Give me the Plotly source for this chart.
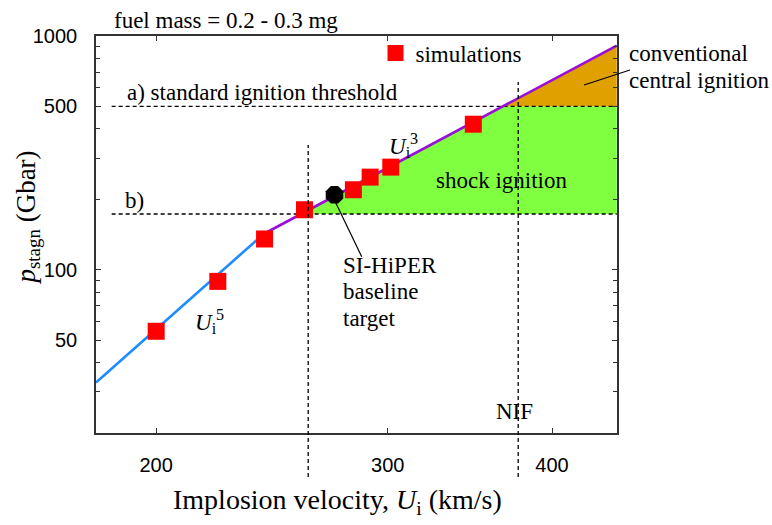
import numpy as np
import plotly.graph_objects as go

# ---------------- data ----------------
sim_U = [200.0, 222.8, 241.8, 259.3, 282.5, 290.9, 301.6, 348.5]      # km/s
sim_p = [54.5, 89.1, 135.3, 180.5, 219.8, 248.9, 274.7, 419.3]        # Gbar

baseline_U = [273.3]
baseline_p = [209.2]

fit5_U = [180.0, 241.4]          # U_i^5 scaling segment
fit5_p = [32.9, 142.1]
fit3_U = [241.4, 448.0]          # U_i^3 scaling segment
fit3_p = [142.1, 910.0]

threshold_a = 500.0              # a) standard ignition threshold (Gbar)
threshold_b = 173.0              # b) shock ignition threshold (Gbar)
thr_U = [185.0, 448.0]

shock_U = [257.7, 367.1, 448.0, 448.0]
shock_p = [173.0, 500.0, 500.0, 173.0]
conv_U = [367.1, 448.0, 448.0]
conv_p = [500.0, 910.0, 500.0]

si_line_U = 261.0
nif_line_U = 377.0

x_ticks = [200, 300, 400]
y_ticks = [50, 100, 500, 1000]
y_minor = [20, 30, 40, 60, 70, 80, 90, 200, 300, 400, 600, 700, 800, 900]

# ---------------- layout geometry ----------------
W, H = 772, 525
L, R, T, B = 96, 155, 36, 92
PW, PH = W - L - R, H - T - B

def px(x):
    return (x - L) / PW

def py(y):
    return (H - B - y) / PH

SERIF = "Liberation Serif, Times New Roman, serif"
SANS = "Liberation Sans, Arial, sans-serif"

fig = go.Figure()

fig.add_trace(go.Scatter(x=shock_U, y=shock_p, fill="toself", mode="none",
                         fillcolor="#80FF40", showlegend=False, hoverinfo="skip"))
fig.add_trace(go.Scatter(x=conv_U, y=conv_p, fill="toself", mode="none",
                         fillcolor="#E0A000", showlegend=False, hoverinfo="skip"))

for thr in (threshold_a, threshold_b):
    fig.add_trace(go.Scatter(x=thr_U, y=[thr, thr], mode="lines",
                             line=dict(color="black", width=1.4, dash="4px,3px"),
                             showlegend=False, hoverinfo="skip"))

fig.add_trace(go.Scatter(x=fit5_U, y=fit5_p, mode="lines",
                         line=dict(color="#1E8CFF", width=2.6), showlegend=False))
fig.add_trace(go.Scatter(x=fit3_U, y=fit3_p, mode="lines",
                         line=dict(color="#9A0FD8", width=2.6), showlegend=False))

fig.add_trace(go.Scatter(x=sim_U, y=sim_p, mode="markers", name="simulations",
                         marker=dict(symbol="square", size=17, color="#FF0000",
                                     line=dict(width=0))))
fig.add_trace(go.Scatter(x=baseline_U, y=baseline_p, mode="markers",
                         marker=dict(symbol="octagon", size=19, color="black",
                                     line=dict(width=0)), showlegend=False))

# vertical dashed reference lines (extend below axis)
for xv, ytop in ((si_line_U, 145), (nif_line_U, 82)):
    fig.add_shape(type="line", xref="x", yref="paper", x0=xv, x1=xv,
                  y0=py(477), y1=py(ytop),
                  line=dict(color="black", width=1.3, dash="4px,3px"))

# leader lines
fig.add_shape(type="line", xref="paper", yref="paper",
              x0=px(333), y0=py(197), x1=px(361.7), y1=py(256.7),
              line=dict(color="black", width=1.2))
fig.add_shape(type="line", xref="paper", yref="paper",
              x0=px(584), y0=py(85), x1=px(630), y1=py(70),
              line=dict(color="black", width=1.2))

def ann(text, x, y, xa="center", ya="middle", size=23, align="center", angle=0):
    fig.add_annotation(text=text, xref="paper", yref="paper", x=px(x), y=py(y),
                       xanchor=xa, yanchor=ya, showarrow=False, align=align,
                       textangle=angle, font=dict(family=SERIF, size=size, color="black"))

ann("fuel mass = 0.2 - 0.3 mg", 112, 20, xa="left")
ann("a) standard ignition threshold", 125, 92, xa="left")
ann("b)", 123, 200, xa="left")
ann("<i>U</i><sub>i</sub><sup>3</sup>", 403, 145)
ann("<i>U</i><sub>i</sub><sup>5</sup>", 209, 321)
ann("shock ignition", 501.5, 180)
ann("conventional", 627, 53, xa="left")
ann("central ignition", 627, 80, xa="left")
ann("SI-HiPER", 341, 265, xa="left")
ann("baseline", 341, 291, xa="left")
ann("target", 341, 318, xa="left")
ann("NIF", 514, 411)
ann("Implosion velocity, <i>U</i><sub>i</sub> (km/s)", 337.5, 502, size=28)
ann("<i>p</i><sub>stagn</sub> (Gbar)", 27, 217.5, size=27, angle=-90)

axis_common = dict(type="log", showgrid=False, zeroline=False, showline=True,
                   linecolor="#333333", linewidth=1.6, mirror="ticks",
                   ticks="inside", ticklen=5, tickwidth=1.2, tickcolor="#333333",
                   tickfont=dict(family=SANS, size=20, color="black"))

fig.update_xaxes(range=[np.log10(180), np.log10(448.2)], tickmode="array",
                 tickvals=x_ticks, ticktext=[str(v) for v in x_ticks],
                 ticklabelstandoff=13, **axis_common)
fig.update_yaxes(range=[np.log10(20), 3], tickmode="array",
                 tickvals=y_ticks, ticktext=[str(v) for v in y_ticks],
                 minor=dict(tickmode="array", tickvals=y_minor, ticks="inside",
                            ticklen=4, tickwidth=1.2, tickcolor="#333333"),
                 ticklabelstandoff=13, **axis_common)

fig.update_layout(
    width=W, height=H,
    margin=dict(l=L, r=R, t=T, b=B, pad=0),
    paper_bgcolor="white", plot_bgcolor="white",
    showlegend=True,
    legend=dict(x=px(375.5), y=py(53), xanchor="left", yanchor="middle",
                bgcolor="rgba(0,0,0,0)", borderwidth=0,
                font=dict(family=SERIF, size=23, color="black")),
)

fig.write_html("out.html", config={"displayModeBar": False},
               post_script="document.body.style.margin='0';document.body.style.padding='0';")
